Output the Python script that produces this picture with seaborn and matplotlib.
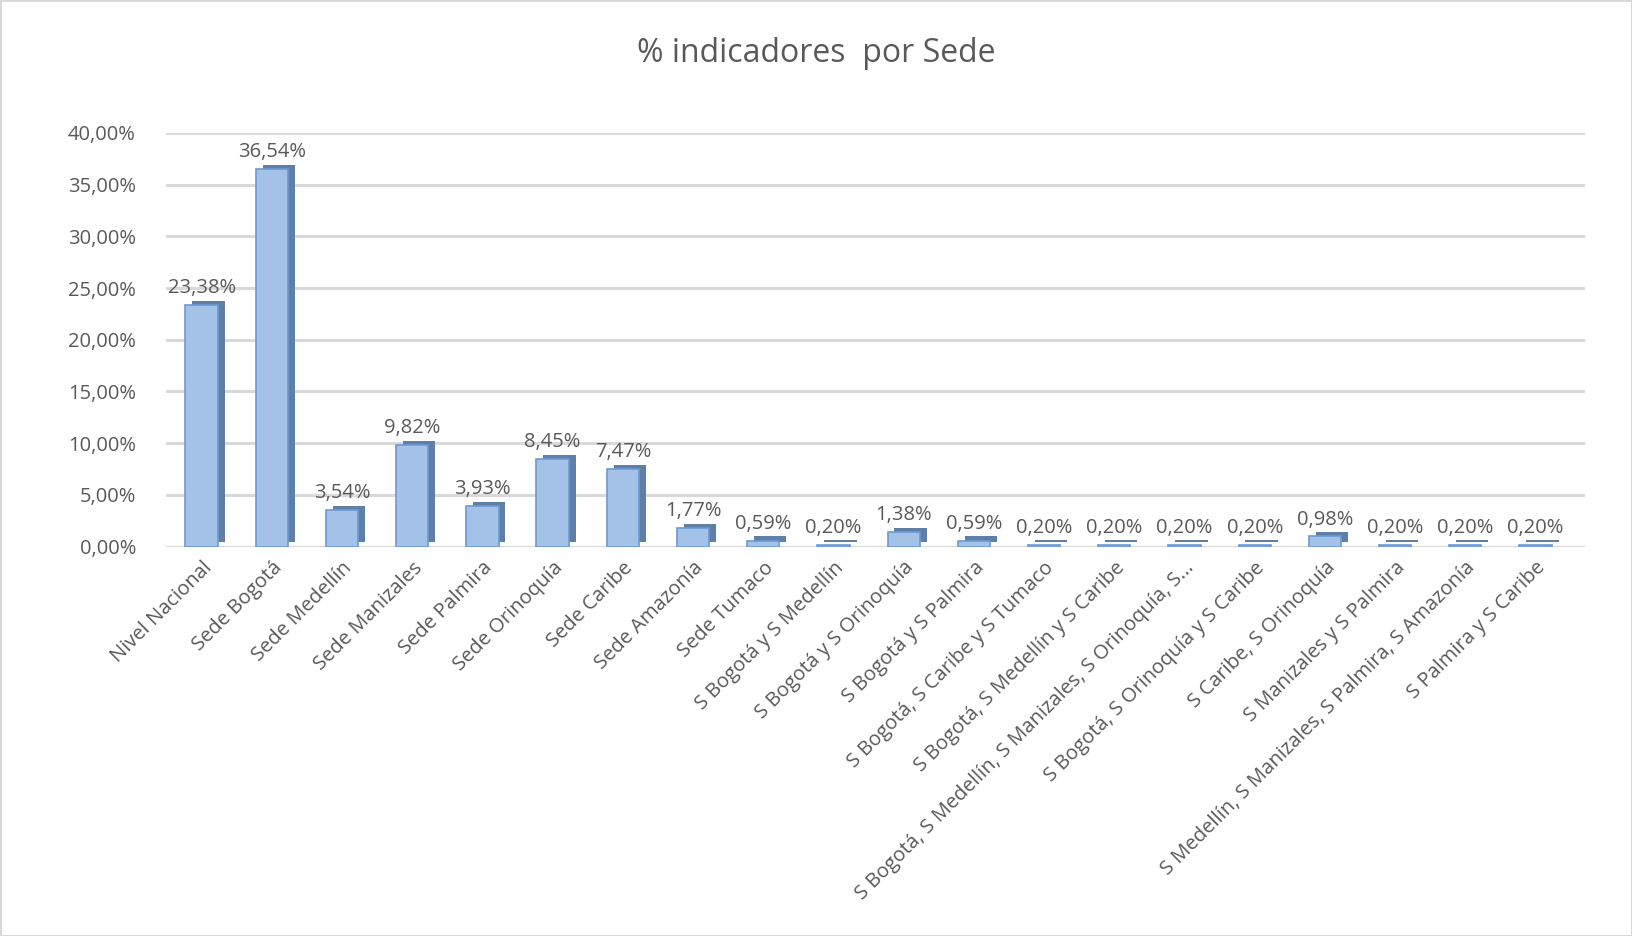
import matplotlib
matplotlib.use("Agg")
import matplotlib.pyplot as plt
import matplotlib.patheffects as pe
from matplotlib.ticker import FuncFormatter
import pandas as pd
import seaborn as sns

# data
sedes = [
    "Nivel Nacional", "Sede Bogotá", "Sede Medellín", "Sede Manizales",
    "Sede Palmira", "Sede Orinoquía", "Sede Caribe", "Sede Amazonía",
    "Sede Tumaco", "S Bogotá y S Medellín", "S Bogotá y S Orinoquía",
    "S Bogotá y S Palmira", "S Bogotá, S Caribe y S Tumaco",
    "S Bogotá, S Medellín y S Caribe",
    "S Bogotá, S Medellín, S Manizales, S Orinoquía, S...",
    "S Bogotá, S Orinoquía y S Caribe", "S Caribe, S Orinoquía",
    "S Manizales y S Palmira",
    "S Medellín, S Manizales, S Palmira, S Amazonía",
    "S Palmira y S Caribe",
]
porcentajes = [23.38, 36.54, 3.54, 9.82, 3.93, 8.45, 7.47, 1.77, 0.59, 0.20,
               1.38, 0.59, 0.20, 0.20, 0.20, 0.20, 0.98, 0.20, 0.20, 0.20]
y_ticks = [0, 5, 10, 15, 20, 25, 30, 35, 40]

df = pd.DataFrame({"sede": sedes, "pct": porcentajes})

sns.set_style("white")
plt.rcParams["font.family"] = ["Open Sans", "DejaVu Sans"]
txt = "#595959"

fig = plt.figure(figsize=(16.32, 9.36), dpi=100)
fig.patch.set_edgecolor("#d9d9d9")
fig.patch.set_linewidth(2)
ax = fig.add_axes([0.102, 0.416, 0.869, 0.442])

sns.barplot(data=df, x="sede", y="pct", color="#a4c2e8", width=0.46,
            edgecolor="#6a9ad6", linewidth=1.2, saturation=1, ax=ax, zorder=3)

# fake the Excel 3D look with a dark offset shadow behind each bar
for bar in ax.patches:
    bar.set_path_effects([
        pe.SimplePatchShadow(offset=(5, 3), shadow_rgbFace="#5f7fa6", alpha=1),
        pe.Normal(),
    ])

fmt = lambda v: f"{v:.2f}".replace(".", ",") + "%"
ax.bar_label(ax.containers[0], labels=[fmt(v) for v in porcentajes],
             padding=5, fontsize=14.5, color=txt)

ax.set_ylim(0, 40)
ax.set_xlim(-0.5, len(sedes) - 0.3)
ax.set_yticks(y_ticks)
ax.yaxis.set_major_formatter(FuncFormatter(lambda v, p: fmt(v)))
ax.grid(axis="y", color="#d9d9d9", linewidth=2.2, zorder=0)
ax.set_axisbelow(True)
for s in ax.spines.values():
    s.set_visible(False)
ax.tick_params(axis="both", length=0, colors=txt, labelsize=14.5)
ax.tick_params(axis="y", pad=22)
ax.tick_params(axis="x", pad=8)
plt.setp(ax.get_xticklabels(), rotation=45, ha="right", rotation_mode="anchor")
ax.set_xlabel("")
ax.set_ylabel("")

fig.suptitle("% indicadores  por Sede", y=0.96, fontsize=23, color=txt)

fig.savefig("out.png", dpi=100)
